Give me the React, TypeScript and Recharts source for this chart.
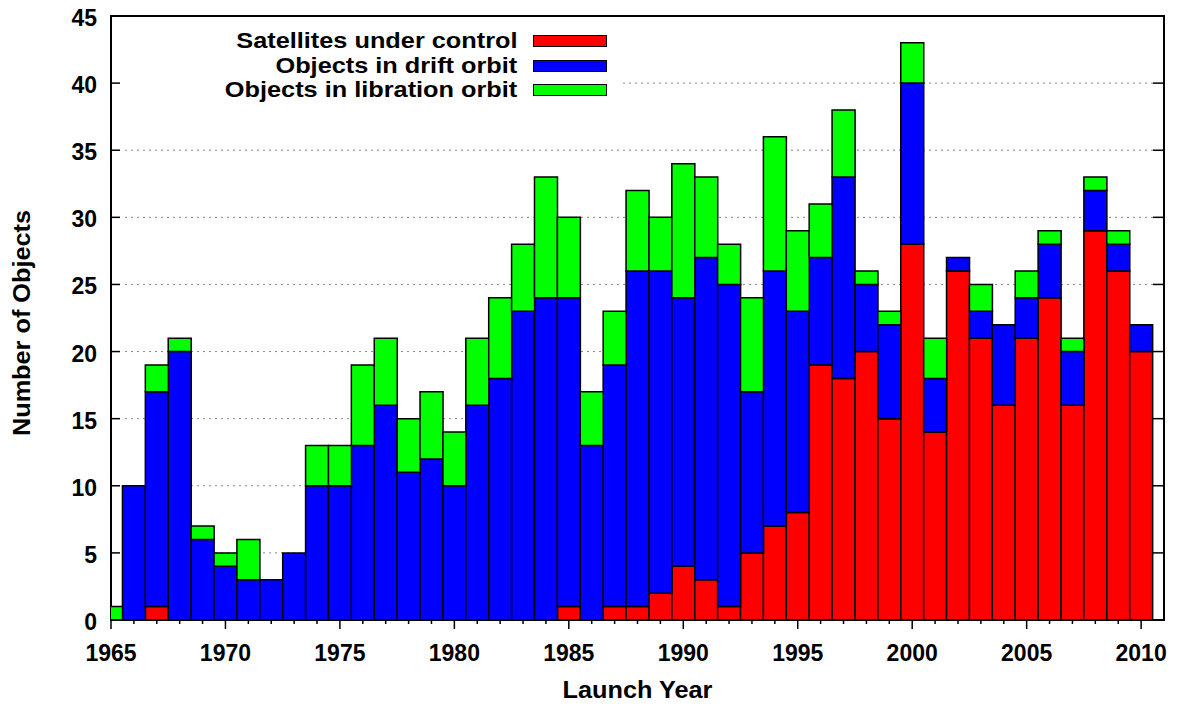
import { BarChart, Bar, XAxis, YAxis, CartesianGrid, ReferenceArea } from "recharts";

const years = [
  1965, 1966, 1967, 1968, 1969, 1970, 1971, 1972, 1973, 1974, 1975, 1976,
  1977, 1978, 1979, 1980, 1981, 1982, 1983, 1984, 1985, 1986, 1987, 1988,
  1989, 1990, 1991, 1992, 1993, 1994, 1995, 1996, 1997, 1998, 1999, 2000,
  2001, 2002, 2003, 2004, 2005, 2006, 2007, 2008, 2009, 2010,
];

// satellites under control
const control = [
  0, 0, 1, 0, 0, 0, 0, 0, 0, 0, 0, 0,
  0, 0, 0, 0, 0, 0, 0, 0, 1, 0, 1, 1,
  2, 4, 3, 1, 5, 7, 8, 19, 18, 20, 15, 28,
  14, 26, 21, 16, 21, 24, 16, 29, 26, 20,
];

// objects in drift orbit
const drift = [
  0, 10, 16, 20, 6, 4, 3, 3, 5, 10, 10, 13,
  16, 11, 12, 10, 16, 18, 23, 24, 23, 13, 18, 25,
  24, 20, 24, 24, 12, 19, 15, 8, 15, 5, 7, 12,
  4, 1, 2, 6, 3, 4, 4, 3, 2, 2,
];

// objects in libration orbit
const libration = [
  1, 0, 2, 1, 1, 1, 3, 0, 0, 3, 3, 6,
  5, 4, 5, 4, 5, 6, 5, 9, 6, 4, 4, 6,
  4, 10, 6, 3, 7, 10, 6, 4, 5, 1, 1, 3,
  3, 0, 2, 0, 2, 1, 1, 1, 1, 0,
];

const labelYears = [1965, 1970, 1975, 1980, 1985, 1990, 1995, 2000, 2005, 2010];
const yTicks = [0, 5, 10, 15, 20, 25, 30, 35, 40, 45];

const seriesNames = ["Satellites under control", "Objects in drift orbit", "Objects in libration orbit"];
const seriesKeys = ["control", "drift", "libration"];
const seriesColors = ["#ff0000", "#0000ff", "#00ff00"];

const FONT = '"Liberation Sans", Arial, Helvetica, sans-serif';

const data = years.map((year, i) => ({
  year,
  control: control[i],
  drift: drift[i],
  libration: libration[i],
}));

function XTick({ x, y, payload }: any) {
  const major = labelYears.includes(payload.value);
  return (
    <g>
      <line x1={x} y1={y} x2={x} y2={y + (major ? 9 : 4)} stroke="#000" strokeWidth={1.5} />
      {major && (
        <text x={x} y={y + 41} textAnchor="middle" fontFamily={FONT} fontWeight="bold" fontSize={23} fill="#000">
          {payload.value}
        </text>
      )}
    </g>
  );
}

function LeftTick({ x, y, payload }: any) {
  return (
    <g>
      <line x1={x} y1={y} x2={x + 9} y2={y} stroke="#000" strokeWidth={1.5} />
      <text x={x - 14} y={y + 10} textAnchor="end" fontFamily={FONT} fontWeight="bold" fontSize={23} fill="#000">
        {payload.value}
      </text>
    </g>
  );
}

function RightTick({ x, y }: any) {
  return <line x1={x} y1={y} x2={x - 11} y2={y} stroke="#000" strokeWidth={1.5} />;
}

function gridLine(p: any) {
  return (
    <line
      key={`g-${p.index}-${p.y1}`}
      x1={p.x1 + 14}
      x2={p.x2 - 11}
      y1={p.y1}
      y2={p.y2}
      stroke="#888"
      strokeWidth={1}
      strokeDasharray="2 4"
    />
  );
}

function xTitle({ viewBox }: any) {
  const cx = viewBox.x + viewBox.width / 2;
  return (
    <text
      transform={`translate(${cx},${viewBox.y + 78}) scale(1.1,1)`}
      textAnchor="middle"
      fontFamily={FONT}
      fontWeight="bold"
      fontSize={23}
      fill="#000"
    >
      Launch Year
    </text>
  );
}

function yTitle({ viewBox }: any) {
  const cy = viewBox.y + viewBox.height / 2 + 5;
  return (
    <text
      transform={`translate(30,${cy}) rotate(-90) scale(1.1,1)`}
      textAnchor="middle"
      fontFamily={FONT}
      fontWeight="bold"
      fontSize={23}
      fill="#000"
    >
      Number of Objects
    </text>
  );
}

function LegendBox() {
  return (
    <div
      style={{
        position: "absolute",
        left: 120,
        top: 28,
        width: 500,
        height: 76,
        background: "#fff",
      }}
    >
      {seriesNames.map((name, i) => {
        const cy = 13 + i * 24.5;
        return (
          <div key={name}>
            <div
              style={{
                position: "absolute",
                right: 103,
                top: cy - 12,
                height: 24,
                lineHeight: "24px",
                fontFamily: FONT,
                fontWeight: "bold",
                fontSize: 22,
                whiteSpace: "nowrap",
                transform: "scaleX(1.15)",
                transformOrigin: "right center",
              }}
            >
              {name}
            </div>
            <div
              style={{
                position: "absolute",
                left: 413,
                top: cy - 6,
                width: 74,
                height: 12,
                boxSizing: "border-box",
                border: "1.5px solid #000",
                background: seriesColors[i],
              }}
            />
          </div>
        );
      })}
    </div>
  );
}

export default function App() {
  return (
    <div style={{ position: "absolute", left: 0, top: 0, width: 1177, height: 707, background: "#fff" }}>
      <BarChart
        width={1177}
        height={707}
        data={data}
        margin={{ top: 16, right: 0, bottom: 0, left: 0 }}
        barCategoryGap={0}
        barGap={0}
      >
        <CartesianGrid vertical={false} horizontal={gridLine} />
        <XAxis
          dataKey="year"
          type="number"
          domain={[1965, 2011]}
          allowDataOverflow
          ticks={years}
          interval={0}
          height={87}
          tickSize={0}
          tickMargin={0}
          axisLine={false}
          tickLine={false}
          tick={<XTick />}
          label={xTitle}
        />
        <YAxis
          domain={[0, 45]}
          ticks={yTicks}
          interval={0}
          allowDataOverflow
          width={111}
          tickSize={0}
          tickMargin={0}
          axisLine={false}
          tickLine={false}
          tick={<LeftTick />}
          label={yTitle}
        />
        <YAxis
          yAxisId="right"
          orientation="right"
          domain={[0, 45]}
          ticks={yTicks}
          interval={0}
          allowDataOverflow
          width={13}
          tickSize={0}
          tickMargin={0}
          axisLine={false}
          tickLine={false}
          tick={<RightTick />}
        />
        {seriesKeys.map((key, i) => (
          <Bar
            key={key}
            dataKey={key}
            name={seriesNames[i]}
            stackId="a"
            fill={seriesColors[i]}
            stroke="#000"
            strokeWidth={1.5}
            isAnimationActive={false}
          />
        ))}
        <ReferenceArea
          x1={1965}
          x2={2011}
          y1={0}
          y2={45}
          fill="none"
          fillOpacity={0}
          stroke="#000"
          strokeWidth={2}
          ifOverflow="visible"
        />
      </BarChart>
      <LegendBox />
    </div>
  );
}
